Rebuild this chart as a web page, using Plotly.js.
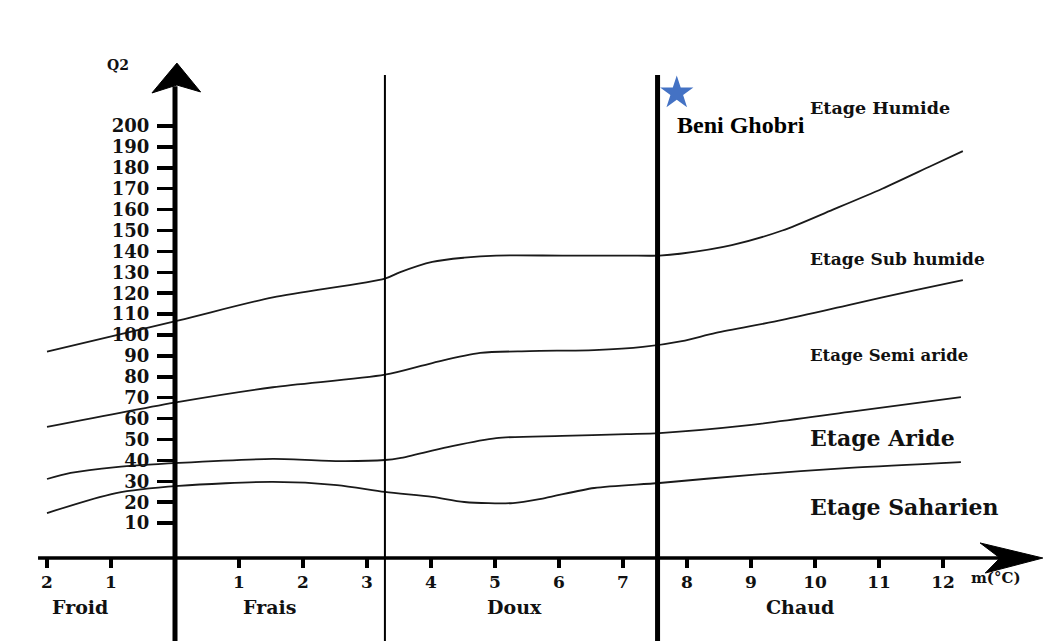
<!DOCTYPE html>
<html><head><meta charset="utf-8">
<script src="https://cdn.plot.ly/plotly-3.0.1.min.js"></script>
<style>html,body{margin:0;padding:0;background:#fff;overflow:hidden}#chart{width:1044px;height:641px}</style>
</head><body><div id="chart"></div>
<script>
// Emberger climagram: Q2 vs m (°C)
const humidLimitX = [-2, 0.06, 1.53, 3.28, 3.51, 4.02, 4.52, 5.02, 6.05, 7.06, 7.57, 7.92, 8.70, 9.49, 10.28, 11.05, 11.82, 12.31];
const humidLimitY = [92, 107, 118, 127, 130, 135, 137, 138, 138, 138, 138, 139, 143, 150, 160, 170, 181, 188];

const subHumidLimitX = [-2, 0.06, 1.53, 3.28, 4.02, 4.77, 5.54, 6.55, 7.31, 7.92, 8.45, 9.49, 10.54, 11.57, 12.31];
const subHumidLimitY = [56, 68, 75, 81, 86.6, 91.4, 92.3, 92.8, 94.3, 97.1, 101, 107.2, 114.4, 121.5, 126.3];

const semiAridLimitX = [-2, -1.63, -0.92, 0.06, 1.53, 2.58, 3.28, 3.51, 4.26, 5.02, 6.05, 7.06, 7.57, 8.97, 10.54, 12.28];
const semiAridLimitY = [31.1, 34, 36.8, 38.8, 40.7, 39.7, 40.2, 41.1, 46.4, 50.7, 51.7, 52.6, 53.1, 56.9, 63.2, 70.3];

const aridLimitX = [-2, -0.92, 0.06, 1.53, 2.53, 3.28, 4.02, 4.52, 5.28, 5.78, 6.55, 7.57, 8.97, 10.54, 12.28];
const aridLimitY = [14.8, 24.4, 27.8, 29.7, 28.2, 24.9, 22.5, 20.1, 19.6, 22.0, 26.8, 29.2, 33.0, 36.4, 39.2];

const stationName = ['Beni Ghobri'];
const stationM = [7.84];
const stationQ2 = [215.8];

const xTickVals = [-2, -1, 1, 2, 3, 4, 5, 6, 7, 8, 9, 10, 11, 12];
const xTickText = ['2', '1', '1', '2', '3', '4', '5', '6', '7', '8', '9', '10', '11', '12'];
const yTickVals = [10, 20, 30, 40, 50, 60, 70, 80, 90, 100, 110, 120, 130, 140, 150, 160, 170, 180, 190, 200];

const zoneNames = ['Etage Humide', 'Etage Sub humide', 'Etage Semi aride', 'Etage Aride', 'Etage Saharien'];
const zoneLabelQ2 = [208.6, 136.4, 90.4, 50.7, 17.7];
const zoneLabelSize = [17.5, 17, 16.5, 22, 22];

const thermalNames = ['Froid', 'Frais', 'Doux', 'Chaud'];
const thermalLabelM = [-1.48, 1.47, 5.30, 9.77];
const thermalLimits = [3.28, 7.54];

const serif = 'DejaVu Serif, Liberation Serif, serif';
const ink = '#111';

const curveStyle = {shape: 'spline', smoothing: 0.8, color: '#1a1a1a', width: 1.8};
const traces = [
  {x: humidLimitX, y: humidLimitY, mode: 'lines', line: curveStyle},
  {x: subHumidLimitX, y: subHumidLimitY, mode: 'lines', line: curveStyle},
  {x: semiAridLimitX, y: semiAridLimitY, mode: 'lines', line: curveStyle},
  {x: aridLimitX, y: aridLimitY, mode: 'lines', line: curveStyle},
  {x: stationM, y: stationQ2, mode: 'markers', marker: {symbol: 'star', size: 25, color: '#4472C4', line: {width: 0}}}
];

const X0 = -6.7; // where the m axis crosses
const shapes = [
  {type: 'line', xref: 'x', yref: 'y', x0: 0, x1: 0, y0: -46.4, y1: 219, line: {color: '#000', width: 5}},
  {type: 'path', xref: 'x', yref: 'y', path: 'M 0.03,230.1 L -0.36,215.8 L 0.03,219.6 L 0.40,216.3 Z', fillcolor: '#000', line: {color: '#000', width: 1}},
  {type: 'line', xref: 'x', yref: 'y', x0: -2.14, x1: 12.95, y0: X0, y1: X0, line: {color: '#000', width: 3.5}},
  {type: 'path', xref: 'x', yref: 'y', path: 'M 13.56,-6.7 L 12.58,0.5 L 12.89,-6.7 L 12.66,-13.9 Z', fillcolor: '#000', line: {color: '#000', width: 1}},
  {type: 'line', xref: 'x', yref: 'y', x0: thermalLimits[0], x1: thermalLimits[0], y0: -46.4, y1: 224.4, line: {color: '#000', width: 2}},
  {type: 'line', xref: 'x', yref: 'y', x0: thermalLimits[1], x1: thermalLimits[1], y0: -46.4, y1: 224.4, line: {color: '#000', width: 5}}
];

const annotations = [];
zoneNames.forEach((t, i) => annotations.push({
  x: 9.89, y: zoneLabelQ2[i], xref: 'x', yref: 'y', text: t, showarrow: false,
  xanchor: 'left', yanchor: 'middle', font: {family: serif, size: zoneLabelSize[i], weight: 'bold', color: ink}
}));
thermalNames.forEach((t, i) => annotations.push({
  x: thermalLabelM[i], y: -30.0, xref: 'x', yref: 'y', text: t, showarrow: false,
  xanchor: 'center', yanchor: 'middle', font: {family: serif, size: 19, weight: 'bold', color: ink}
}));
annotations.push({x: stationM[0] - 0.03, y: 200.5, xref: 'x', yref: 'y', text: stationName[0], showarrow: false,
  xanchor: 'left', yanchor: 'middle', font: {family: 'Liberation Serif, serif', size: 24, weight: 'bold', color: '#000'}});
annotations.push({x: -0.89, y: 229.2, xref: 'x', yref: 'y', text: 'Q2', showarrow: false,
  xanchor: 'center', yanchor: 'middle', font: {family: serif, size: 14, weight: 'bold', color: ink}});
annotations.push({x: 12.4, y: -16.5, xref: 'x', yref: 'y', text: 'm(°C)', showarrow: false,
  xanchor: 'left', yanchor: 'middle', font: {family: serif, size: 15, weight: 'bold', color: ink}});

const layout = {
  width: 1044, height: 641,
  margin: {l: 0, r: 0, t: 0, b: 0, pad: 0},
  paper_bgcolor: '#fff', plot_bgcolor: '#fff',
  showlegend: false, hovermode: false,
  xaxis: {
    range: [-2.734375, 13.578125], anchor: 'free', position: 0.1295,
    showgrid: false, zeroline: false, showline: false,
    tickmode: 'array', tickvals: xTickVals, ticktext: xTickText,
    ticks: 'outside', ticklen: 9, tickwidth: 4, tickcolor: '#000',
    tickfont: {family: serif, size: 17, weight: 'bold', color: ink},
    ticklabelstandoff: 0,
    automargin: false, fixedrange: true
  },
  yaxis: {
    range: [-46.41, 260.29], anchor: 'free', position: 0.16762,
    showgrid: false, zeroline: false, showline: false,
    tickmode: 'array', tickvals: yTickVals,
    ticks: 'outside', ticklen: 18, tickwidth: 3.5, tickcolor: '#000',
    tickfont: {family: serif, size: 18, weight: 'bold', color: ink},
    ticklabelstandoff: 4,
    automargin: false, fixedrange: true
  },
  shapes: shapes,
  annotations: annotations
};

Plotly.newPlot('chart', traces, layout, {staticPlot: true, displayModeBar: false});
</script>
</body></html>
